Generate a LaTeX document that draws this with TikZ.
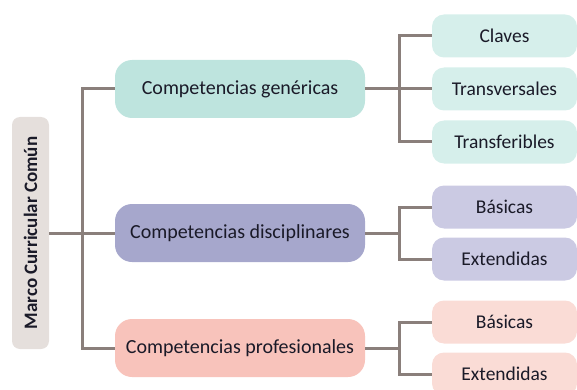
\documentclass[tikz,border=0pt]{standalone}
\usepackage{fontspec}
\setmainfont{Carlito}
\definecolor{rootc}{HTML}{E5DFDC}
\definecolor{genc}{HTML}{BEE4DE}
\definecolor{gensub}{HTML}{D6EFEB}
\definecolor{disc}{HTML}{A6A7CC}
\definecolor{dissub}{HTML}{CBCAE3}
\definecolor{proc}{HTML}{F8C3BB}
\definecolor{prosub}{HTML}{FADCD6}
\definecolor{linec}{HTML}{8A7F7B}
\definecolor{txtc}{HTML}{1A1A28}
\tikzset{
  mainbox/.style={rectangle, rounded corners=17pt, minimum width=250pt, minimum height=58pt, inner sep=0pt, text=txtc, font=\fontsize{20}{24}\selectfont},
  subbox/.style={rectangle, rounded corners=12pt, minimum width=145pt, minimum height=43pt, inner sep=0pt, text=txtc, font=\fontsize{19.5}{23}\selectfont},
  rootbox/.style={rectangle, rounded corners=8pt, minimum width=232pt, minimum height=37pt, inner sep=0pt, fill=rootc, text=txtc, rotate=90, font=\bfseries\fontsize{19}{23}\selectfont},
  conn/.style={draw=linec, line width=3pt}
}
\begin{document}
\begin{tikzpicture}[x=1pt,y=-1pt]
\useasboundingbox (0,0) rectangle (577,390);
\node[rootbox] (root) at (30.5,233) {Marco Curricular Común};
\node[mainbox, fill=genc] (gen) at (240,89) {Competencias genéricas};
\node[mainbox, fill=disc] (dis) at (240,233) {Competencias disciplinares};
\node[mainbox, fill=proc] (pro) at (240,348) {Competencias profesionales};
\node[subbox, fill=gensub] (cla) at (504.5,36) {Claves};
\node[subbox, fill=gensub] (trv) at (504.5,89) {Transversales};
\node[subbox, fill=gensub] (trf) at (504.5,142) {Transferibles};
\node[subbox, fill=dissub] (bas1) at (504.5,207) {Básicas};
\node[subbox, fill=dissub] (ext1) at (504.5,259) {Extendidas};
\node[subbox, fill=prosub] (bas2) at (504.5,322) {Básicas};
\node[subbox, fill=prosub] (ext2) at (504.5,374) {Extendidas};
\coordinate (tr) at (82,233);
\coordinate (sg) at (399,89);
\coordinate (sd) at (399,233);
\coordinate (sp) at (399,348);
\draw[conn] (root.south) -- (dis.west);
\draw[conn] (gen.west) -| (tr) |- (pro.west);
\draw[conn] (gen.east) -- (sg);
\draw[conn] (cla.west) -| (sg) |- (trf.west);
\draw[conn] (sg) -- (trv.west);
\draw[conn] (dis.east) -- (sd);
\draw[conn] (bas1.west) -| (sd) |- (ext1.west);
\draw[conn] (pro.east) -- (sp);
\draw[conn] (bas2.west) -| (sp) |- (ext2.west);
\end{tikzpicture}
\end{document}
